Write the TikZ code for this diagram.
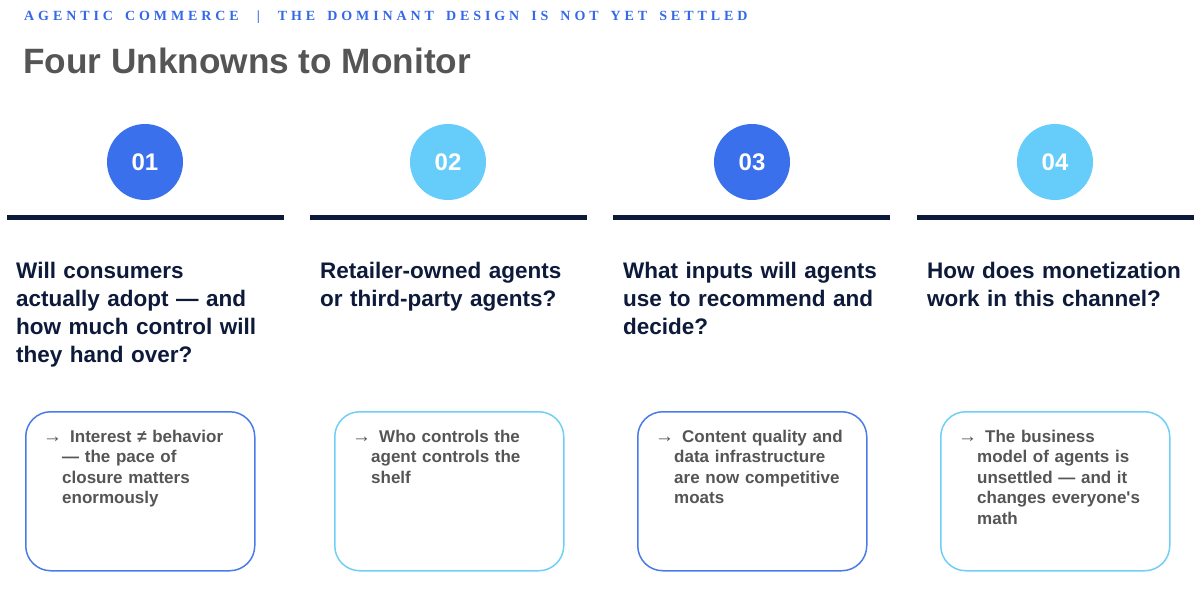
\documentclass[tikz,border=0pt]{standalone}
\usepackage{fontspec}
\setmainfont{Liberation Sans}
\newfontfamily\hdfont[LetterSpace=28]{Liberation Serif}
\usetikzlibrary{positioning}
\definecolor{hdblue}{HTML}{3468E8}
\definecolor{cblue}{HTML}{3A70EC}
\definecolor{clight}{HTML}{66CCFA}
\definecolor{navy}{HTML}{0D1A3A}
\definecolor{grayt}{HTML}{555555}
\definecolor{bblue}{HTML}{4A7BE8}
\definecolor{blight}{HTML}{70CFF5}
\newcommand\hdspaces{\spaceskip=12pt\relax}
\tikzset{
  numcircle/.style={circle, minimum size=76pt, inner sep=0pt, text=white,
    font=\bfseries\fontsize{24}{24}\selectfont},
  rulebar/.style={line width=5pt, draw=navy},
  question/.style={anchor=base west, inner sep=0pt, text width=280pt, align=left,
    text=navy, font=\bfseries\fontsize{22.5}{28}\selectfont},
  cardbox/.style={draw, line width=1.5pt, rounded corners=25pt, minimum width=229pt,
    minimum height=159pt, anchor=north west, inner sep=0pt},
  cardtext/.style={anchor=base west, inner sep=0pt, text width=190pt, align=left,
    text=grayt, font=\bfseries\fontsize{17}{20.5}\selectfont},
  arrowmark/.style={anchor=base west, inner sep=0pt, text=grayt,
    font=\fontsize{19}{20.5}\selectfont},
}
\begin{document}
\begin{tikzpicture}[x=1pt,y=-1pt]
\useasboundingbox (0,0) rectangle (1200,599);
\node[anchor=base west, inner sep=0pt, text=hdblue, font=\hdfont\bfseries\fontsize{14}{15}\selectfont\hdspaces]
  (hdr) at (24,21) {AGENTIC COMMERCE\hspace*{18pt}|\hspace*{18pt}THE DOMINANT DESIGN IS NOT YET SETTLED};
\node[anchor=base west, inner sep=0pt, text=grayt, font=\bfseries\fontsize{35.2}{40}\selectfont]
  (title) at (23,74) {Four Unknowns to Monitor};

% circles
\node[numcircle, fill=cblue] (c1) at (145,162) {01};
\node[numcircle, fill=clight] (c2) at (448,162) {02};
\node[numcircle, fill=cblue] (c3) at (752,162) {03};
\node[numcircle, fill=clight] (c4) at (1055,162) {04};

% rules
\coordinate (r1a) at (7,217); \coordinate (r1b) at (284,217);
\coordinate (r2a) at (310,217); \coordinate (r2b) at (587,217);
\coordinate (r3a) at (613,217); \coordinate (r3b) at (890,217);
\coordinate (r4a) at (917,217); \coordinate (r4b) at (1194,217);
\draw[rulebar] (r1a) -- (r1b);
\draw[rulebar] (r2a) -- (r2b);
\draw[rulebar] (r3a) -- (r3b);
\draw[rulebar] (r4a) -- (r4b);

% questions
\node[question] (q1) at (16,278) {Will consumers\\actually adopt — and\\how much control will\\they hand over?};
\node[question] (q2) at (320,278) {Retailer-owned agents\\or third-party agents?};
\node[question] (q3) at (623,278) {What inputs will agents\\use to recommend and\\decide?};
\node[question] (q4) at (927,278) {How does monetization\\work in this channel?};

% cards
\node[cardbox, draw=bblue] (b1) at (25,411) {};
\node[cardbox, draw=blight] (b2) at (334,411) {};
\node[cardbox, draw=bblue] (b3) at (637,411) {};
\node[cardbox, draw=blight] (b4) at (940,411) {};

\node[arrowmark] (a1) at (43,442) {→};
\node[arrowmark] (a2) at (352,442) {→};
\node[arrowmark] (a3) at (655,442) {→};
\node[arrowmark] (a4) at (958,442) {→};

\node[cardtext] (t1) at (62,442) {\hspace*{8pt}Interest ≠ behavior\\— the pace of\\closure matters\\enormously};
\node[cardtext] (t2) at (371,442) {\hspace*{8pt}Who controls the\\agent controls the\\shelf};
\node[cardtext] (t3) at (674,442) {\hspace*{8pt}Content quality and\\data infrastructure\\are now competitive\\moats};
\node[cardtext] (t4) at (977,442) {\hspace*{8pt}The business\\model of agents is\\unsettled — and it\\changes everyone\textquotesingle s\\math};
\end{tikzpicture}
\end{document}
